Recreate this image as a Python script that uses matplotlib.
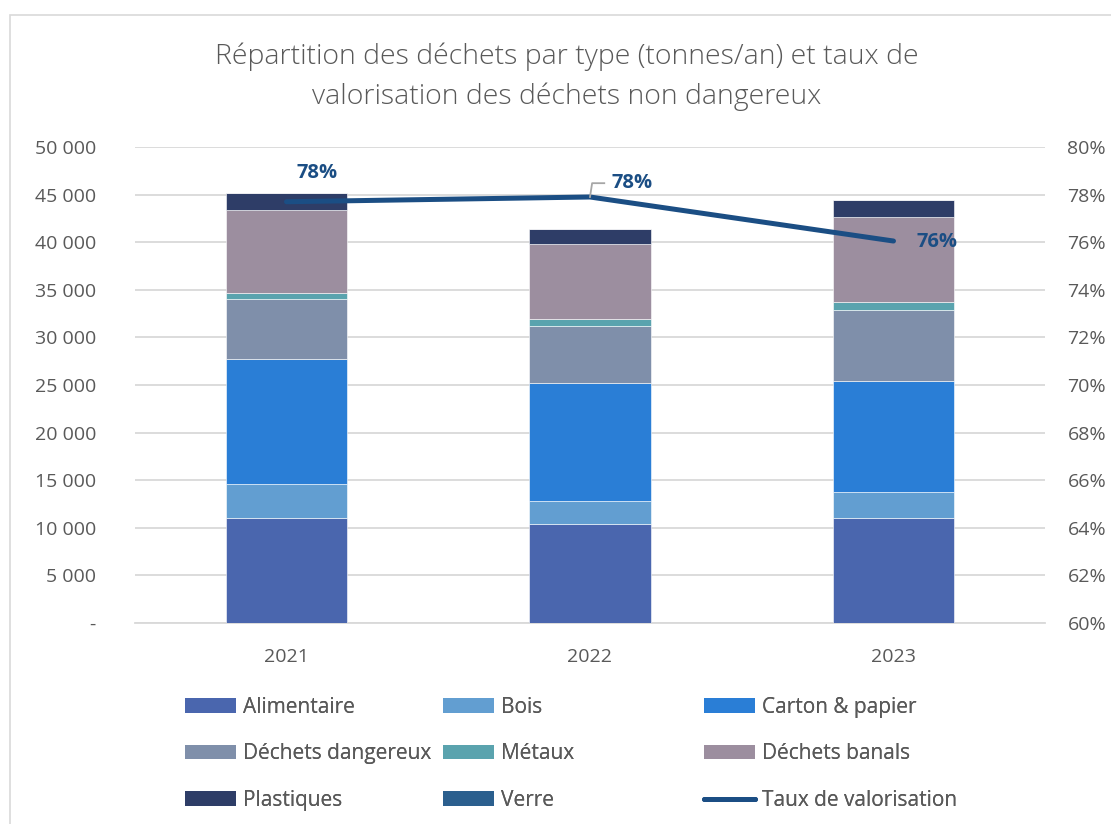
import matplotlib
matplotlib.use("Agg")
import matplotlib.pyplot as plt
from matplotlib.patches import Rectangle, Patch
from matplotlib.lines import Line2D
from matplotlib.ticker import FuncFormatter, MultipleLocator
import numpy as np

plt.rcParams['font.family'] = ['Open Sans', 'DejaVu Sans']

years = ["2021", "2022", "2023"]
alimentaire = [11000, 10400, 11060]
bois = [3600, 2400, 2700]
carton = [13100, 12440, 11690]
dangereux = [6300, 5960, 7400]
metaux = [700, 700, 900]
banals = [8680, 7910, 8930]
plastiques = [1790, 1550, 1750]
verre = [0, 0, 0]
taux = [0.777, 0.779, 0.7605]
taux_labels = ["78%", "78%", "76%"]

series = [
    ("Alimentaire", alimentaire, "#4A66AE"),
    ("Bois", bois, "#629ED1"),
    ("Carton & papier", carton, "#2A7ED6"),
    ("Déchets dangereux", dangereux, "#7F8FAA"),
    ("Métaux", metaux, "#5AA3AE"),
    ("Déchets banals", banals, "#9C8E9F"),
    ("Plastiques", plastiques, "#2E3D67"),
    ("Verre", verre, "#2B5F8E"),
]
line_color = "#1B4E84"
text_color = "#595959"
grid_color = "#D9D9D9"

fig = plt.figure(figsize=(11.11, 8.24), dpi=100)
fig.patches.append(Rectangle((10 / 1111, -0.01), 1.1, 1 - 15 / 824 + 0.01,
                             transform=fig.transFigure, fill=False,
                             edgecolor=grid_color, linewidth=1.2))

ax = fig.add_axes([0.1213, 0.2439, 0.8195, 0.5777])
x = np.arange(len(years))
bottom = np.zeros(len(years))
for name, vals, col in series:
    ax.bar(x, vals, width=0.4, bottom=bottom, color=col, edgecolor="white",
           linewidth=0.4, zorder=3, label=name)
    bottom += np.array(vals)

ax.set_xlim(-0.5, 2.5)
ax.set_ylim(0, 50000)
ax.yaxis.set_major_locator(MultipleLocator(5000))
ax.yaxis.set_major_formatter(FuncFormatter(
    lambda v, p: "-" if v == 0 else f"{int(v):,}".replace(",", " ")))
ax.grid(axis="y", color=grid_color, linewidth=1.3, zorder=0)
ax.set_axisbelow(True)
for s in ["top", "right", "left"]:
    ax.spines[s].set_visible(False)
ax.spines["bottom"].set_color(grid_color)
ax.spines["bottom"].set_linewidth(1.3)
ax.set_xticks(x)
ax.set_xticklabels(years)
ax.tick_params(axis="both", length=0, labelsize=14, colors=text_color)
ax.tick_params(axis="x", pad=18)
ax.tick_params(axis="y", pad=28)

ax2 = ax.twinx()
ax2.set_ylim(0.60, 0.80)
ax2.yaxis.set_major_locator(MultipleLocator(0.02))
ax2.yaxis.set_major_formatter(FuncFormatter(lambda v, p: f"{v * 100:.0f}%"))
ax2.tick_params(axis="y", length=0, labelsize=14, colors=text_color, pad=16)
for s in ["top", "right", "left", "bottom"]:
    ax2.spines[s].set_visible(False)
ax2.plot(x, taux, color=line_color, linewidth=3.6, solid_capstyle="round",
         solid_joinstyle="round", zorder=5)

# rate labels
ax2.annotate(taux_labels[0], (x[0], taux[0]), xytext=(31, 29),
             textcoords="offset pixels", ha="center", va="center",
             fontsize=14.5, fontweight="bold", color=line_color)
ax2.annotate(taux_labels[1], (x[1], taux[1]), xytext=(22, 14),
             textcoords="offset pixels", ha="left", va="center",
             fontsize=14.5, fontweight="bold", color=line_color)
ax2.plot([x[1], x[1] + 0.007, x[1] + 0.047],
         [taux[1], taux[1] + 0.0058, taux[1] + 0.0058],
         color="#A6A6A6", linewidth=1.3, zorder=6)
ax2.annotate(taux_labels[2], (x[2], taux[2]), xytext=(23, -1),
             textcoords="offset pixels", ha="left", va="center",
             fontsize=14.5, fontweight="bold", color=line_color)

fig.text(567 / 1111, 1 - 57 / 824, "Répartition des déchets par type (tonnes/an) et taux de",
         ha="center", va="center", fontsize=20.5, color=text_color, fontweight="light")
fig.text(567 / 1111, 1 - 97 / 824, "valorisation des déchets non dangereux",
         ha="center", va="center", fontsize=20.5, color=text_color, fontweight="light")

# legend laid out on a fixed three-column grid
handles = [Patch(facecolor=c, edgecolor="none", label=n) for n, _, c in series]
handles.append(Line2D([], [], color=line_color, linewidth=3.6,
                      solid_capstyle="round", label="Taux de valorisation"))
columns = [[0, 3, 6], [1, 4, 7], [2, 5, 8]]
col_x = [185 / 1111, 443 / 1111, 704 / 1111]
for cx, idxs in zip(col_x, columns):
    leg = fig.legend(handles=[handles[i] for i in idxs], loc="upper left",
                     bbox_to_anchor=(cx, 1 - 697 / 824), ncol=1, frameon=False,
                     fontsize=15, handlelength=2.45, handleheight=0.7,
                     handletextpad=0.35, labelspacing=1.22, labelcolor=text_color,
                     borderaxespad=0, borderpad=0)
    fig.add_artist(leg)

fig.savefig("out.png", dpi=100)
